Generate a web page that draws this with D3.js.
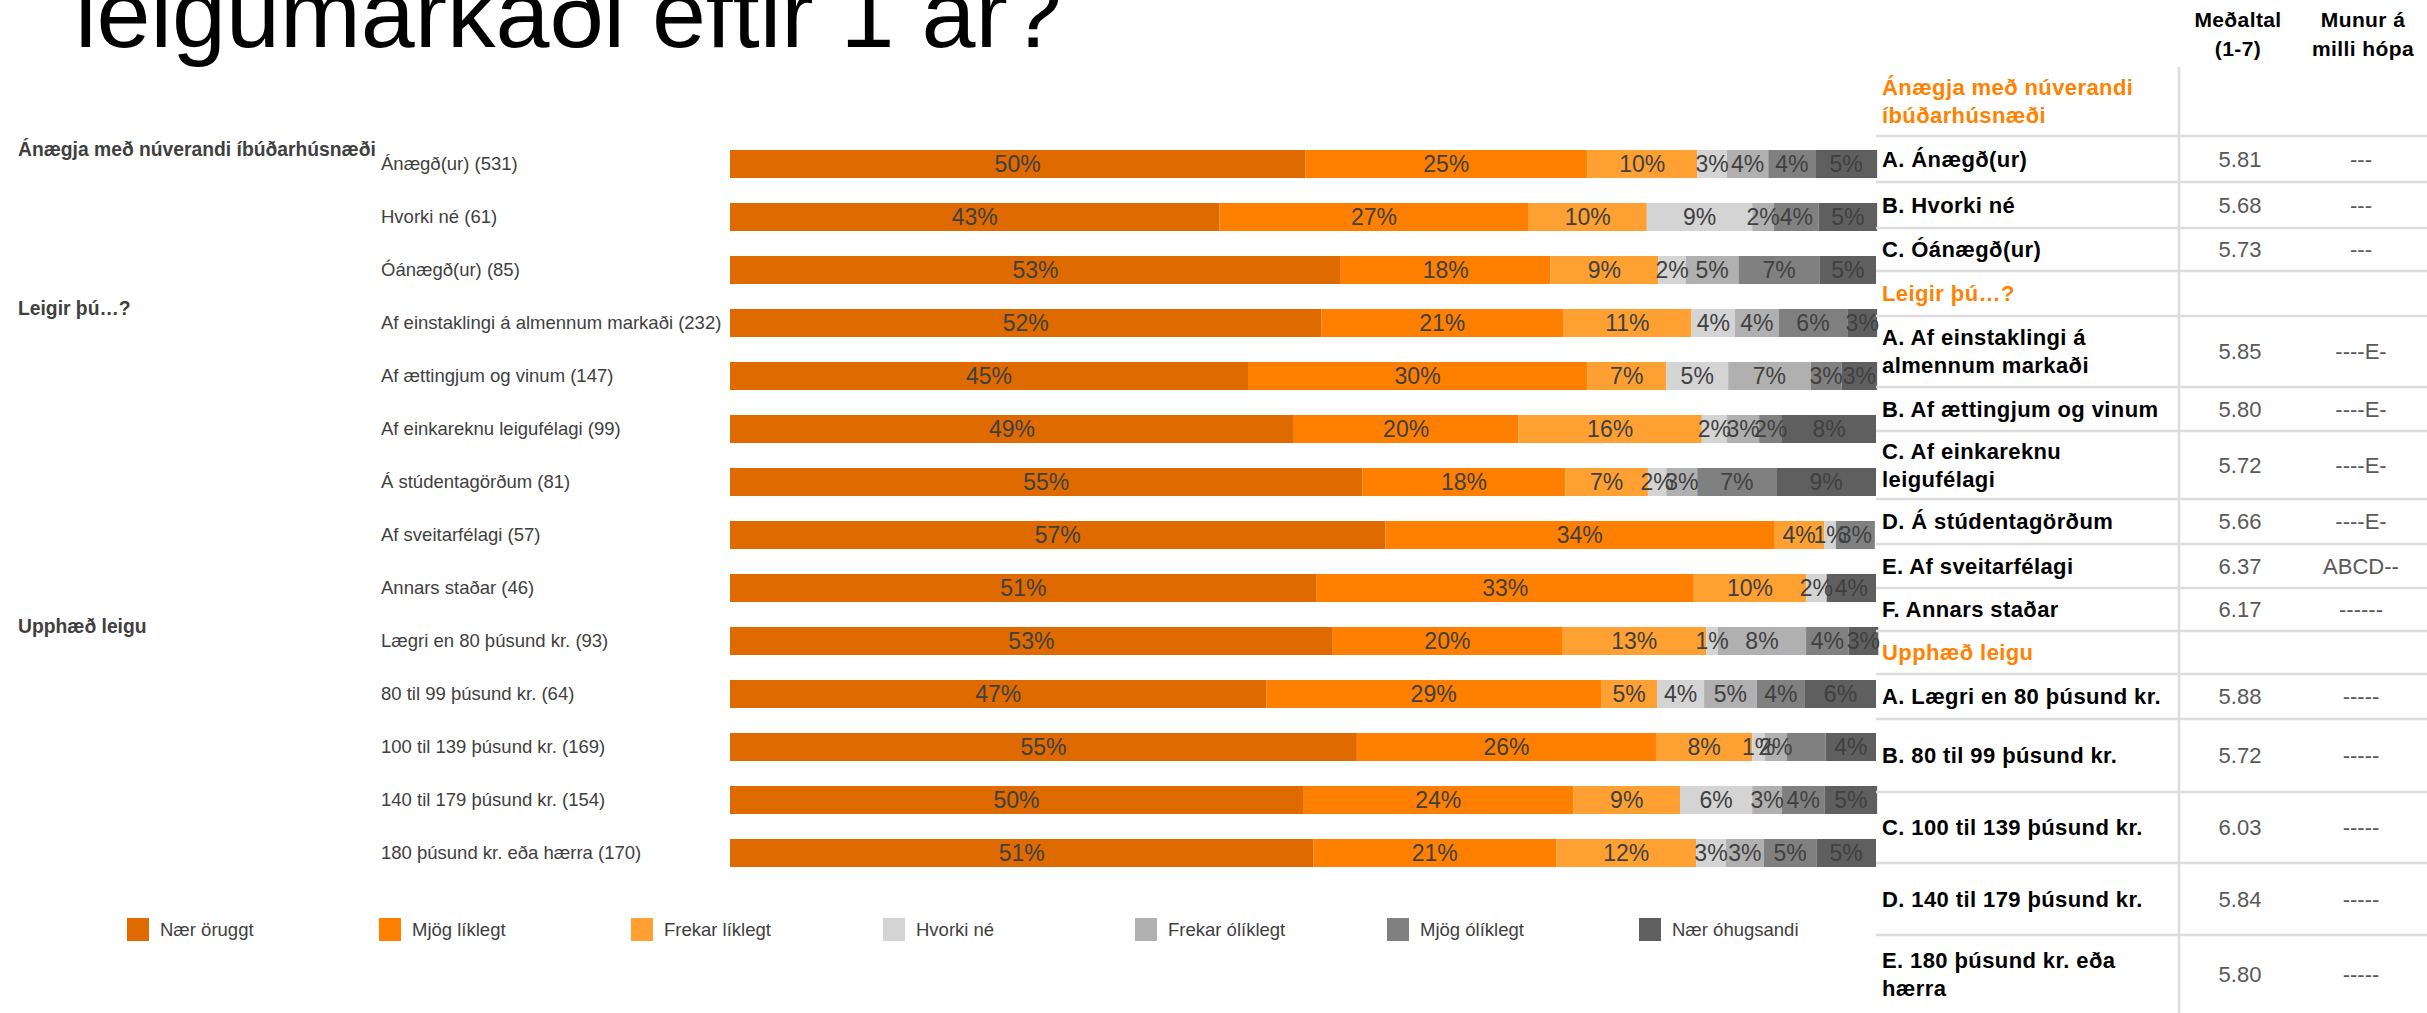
<!DOCTYPE html>
<html>
<head>
<meta charset="utf-8">
<script src="https://cdn.jsdelivr.net/npm/d3@7"></script>
<style>
  html, body { margin: 0; padding: 0; background: #fff; }
  svg { display: block; font-family: "Liberation Sans", Arial, Helvetica, sans-serif; }
</style>
</head>
<body>
<svg id="chart" width="2427" height="1013"></svg>
<script>
// ---------- DATA ----------
const titleText = "leigumarkaði eftir 1 ár?";

const categories = [
  "Ánægð(ur) (531)", "Hvorki né (61)", "Óánægð(ur) (85)",
  "Af einstaklingi á almennum markaði (232)", "Af ættingjum og vinum (147)",
  "Af einkareknu leigufélagi (99)", "Á stúdentagörðum (81)", "Af sveitarfélagi (57)",
  "Annars staðar (46)", "Lægri en 80 þúsund kr. (93)", "80 til 99 þúsund kr. (64)",
  "100 til 139 þúsund kr. (169)", "140 til 179 þúsund kr. (154)", "180 þúsund kr. eða hærra (170)"
];

const groupNames = ["Ánægja með núverandi íbúðarhúsnæði", "Leigir þú…?", "Upphæð leigu"];
const groupStart = [0, 3, 9];

const seriesNames = ["Nær öruggt", "Mjög líklegt", "Frekar líklegt", "Hvorki né",
                     "Frekar ólíklegt", "Mjög ólíklegt", "Nær óhugsandi"];

const naerOruggt     = [50.2, 42.7, 53.3, 51.6, 45.2, 49.2, 55.2, 57.2, 51.2, 52.6, 46.8, 54.7, 50.0, 50.9];
const mjogLiklegt    = [24.6, 27.0, 18.3, 21.1, 29.6, 19.6, 17.7, 33.9, 32.9, 20.0, 29.2, 26.1, 23.6, 21.2];
const frekarLiklegt  = [ 9.6, 10.3,  9.4, 11.2,  6.9, 16.0,  7.2,  4.4,  9.8, 12.6,  4.9,  8.4,  9.3, 12.2];
const hvorkiNe       = [ 2.6,  9.2,  2.4,  3.8,  5.4,  2.2,  1.6,  1.0,  1.8,  1.0,  4.1,  1.1,  6.3,  2.6];
const frekarOliklegt = [ 3.6,  1.9,  4.6,  3.8,  7.2,  2.8,  2.7,  0.0,  0.0,  7.7,  4.6,  1.9,  2.6,  3.3];
const mjogOliklegt   = [ 4.1,  3.9,  7.1,  6.0,  2.7,  2.0,  6.9,  3.4,  0.0,  3.7,  4.2,  3.4,  3.7,  4.6];
const naerOhugsandi  = [ 5.4,  5.1,  4.9,  2.6,  3.1,  8.2,  8.7,  0.0,  4.3,  2.6,  6.2,  4.4,  4.6,  5.2];

// labels not shown in the original (row index, series index)
const hiddenLabels = [[11, 5]];

// table on the right
const tableHeadMean  = ["Meðaltal", "(1-7)"];
const tableHeadDiff  = ["Munur á", "milli hópa"];
const tableSections  = [["Ánægja með núverandi", "íbúðarhúsnæði"], ["Leigir þú…?"], ["Upphæð leigu"]];
const tableLabels = [
  ["A. Ánægð(ur)"], ["B. Hvorki né"], ["C. Óánægð(ur)"],
  ["A. Af einstaklingi á", "almennum markaði"], ["B. Af ættingjum og vinum"],
  ["C. Af einkareknu", "leigufélagi"], ["D. Á stúdentagörðum"], ["E. Af sveitarfélagi"],
  ["F. Annars staðar"], ["A. Lægri en 80 þúsund kr."], ["B. 80 til 99 þúsund kr."],
  ["C. 100 til 139 þúsund kr."], ["D. 140 til 179 þúsund kr."], ["E. 180 þúsund kr. eða", "hærra"]
];
const tableMeans = [5.81, 5.68, 5.73, 5.85, 5.80, 5.72, 5.66, 6.37, 6.17, 5.88, 5.72, 6.03, 5.84, 5.80];
const tableDiffs = ["---", "---", "---", "----E-", "----E-", "----E-", "----E-", "ABCD--", "------",
                    "-----", "-----", "-----", "-----", "-----"];

// ---------- STYLE / LAYOUT ----------
const colors = ["#de6a00", "#ff7f00", "#ffa033", "#d4d4d4", "#b0b0b0", "#808080", "#5f5f5f"];
const textGrey = "#404040";
const orange = "#ff8200";
const lineColor = "#dcdcdc";

const svg = d3.select("#chart");

// title
svg.append("text").attr("x", 75).attr("y", 47)
  .attr("font-size", 97).attr("fill", "#000").text(titleText);

// scales
const x = d3.scaleLinear().domain([0, 100]).range([730, 1876]);
const yc = d3.scalePoint().domain(categories).range([164, 164 + 13 * 53]);
const barH = 28;

const allSeries = [naerOruggt, mjogLiklegt, frekarLiklegt, hvorkiNe, frekarOliklegt, mjogOliklegt, naerOhugsandi];
const rows = categories.map((c, i) => {
  const o = { cat: c, idx: i };
  seriesNames.forEach((s, j) => o[s] = allSeries[j][i]);
  return o;
});
const stacked = d3.stack().keys(seriesNames)(rows);

const gBars = svg.append("g");
stacked.forEach((layer, j) => {
  const g = gBars.append("g").attr("fill", colors[j]);
  g.selectAll("rect").data(layer.filter(d => d[1] - d[0] > 0)).join("rect")
    .attr("x", d => x(d[0]))
    .attr("y", d => yc(d.data.cat) - barH / 2)
    .attr("width", d => x(d[1]) - x(d[0]))
    .attr("height", barH);
});
// value labels
stacked.forEach((layer, j) => {
  const g = gBars.append("g").attr("fill", textGrey).attr("font-size", 23).attr("text-anchor", "middle");
  g.selectAll("text")
    .data(layer.filter(d => d[1] - d[0] > 0 && !hiddenLabels.some(h => h[0] === d.data.idx && h[1] === j)))
    .join("text")
    .attr("x", d => (x(d[0]) + x(d[1])) / 2)
    .attr("y", d => yc(d.data.cat))
    .attr("dy", "0.36em")
    .text(d => Math.round(d[1] - d[0]) + "%");
});

// row labels
svg.append("g").attr("font-size", 18.5).attr("fill", textGrey)
  .selectAll("text").data(categories).join("text")
  .attr("x", 381).attr("y", d => yc(d)).attr("dy", "0.35em").text(d => d);

// group labels
svg.append("g").attr("font-size", 19.3).attr("font-weight", "bold").attr("fill", textGrey)
  .selectAll("text").data(groupNames).join("text")
  .attr("x", 18).attr("y", (d, i) => yc(categories[groupStart[i]]) - 15)
  .attr("dy", "0.35em").text(d => d);

// legend
const lg = svg.append("g");
seriesNames.forEach((s, j) => {
  const lx = 127 + j * 252;
  lg.append("rect").attr("x", lx).attr("y", 918).attr("width", 22).attr("height", 23).attr("fill", colors[j]);
  lg.append("text").attr("x", lx + 33).attr("y", 929.5).attr("dy", "0.35em")
    .attr("font-size", 18.5).attr("fill", textGrey).text(s);
});

// ---------- TABLE ----------
const tbl = svg.append("g").attr("font-size", 22).attr("letter-spacing", 0.4);
const colLabelX = 1882, colMeanX = 2240, colDiffX = 2361;
const tLeft = 1876, tRight = 2427, tTop = 67;
// band heights for: section, rows..., section, rows..., section, rows...
const bandHeights = [69, 46, 46, 43, 45, 71, 44, 68, 45, 44, 43, 43, 45, 73, 71, 72, 78];

// headers
tableHeadMean.forEach((t, k) => tbl.append("text").attr("x", colMeanX - 2).attr("y", 20 + k * 29).attr("dy", "0.35em")
  .attr("text-anchor", "middle").attr("font-weight", "bold").attr("font-size", 21).attr("fill", "#000").text(t));
tableHeadDiff.forEach((t, k) => tbl.append("text").attr("x", colDiffX + 2).attr("y", 20 + k * 29).attr("dy", "0.35em")
  .attr("text-anchor", "middle").attr("font-weight", "bold").attr("font-size", 21).attr("fill", "#000").text(t));

// build bands
const bands = [];
let rowIdx = 0;
tableSections.forEach((sec, si) => {
  bands.push({ type: "section", lines: sec });
  const n = (si < groupStart.length - 1 ? groupStart[si + 1] : categories.length) - groupStart[si];
  for (let k = 0; k < n; k++) {
    bands.push({ type: "row", lines: tableLabels[rowIdx], mean: tableMeans[rowIdx], diff: tableDiffs[rowIdx] });
    rowIdx++;
  }
});
let yCur = tTop;
bands.forEach((b, i) => {
  const h = bandHeights[i];
  const cy = yCur + h / 2;
  const lh = 28;
  const start = cy - (b.lines.length - 1) * lh / 2;
  b.lines.forEach((ln, k) => {
    tbl.append("text").attr("x", colLabelX).attr("y", start + k * lh).attr("dy", "0.35em")
      .attr("font-weight", "bold").attr("fill", b.type === "section" ? orange : "#000").text(ln);
  });
  if (b.type === "row") {
    tbl.append("text").attr("x", colMeanX).attr("y", cy).attr("dy", "0.35em").attr("text-anchor", "middle")
      .attr("fill", "#595959").attr("letter-spacing", 0).text(d3.format(".2f")(b.mean));
    tbl.append("text").attr("x", colDiffX).attr("y", cy).attr("dy", "0.35em").attr("text-anchor", "middle")
      .attr("fill", "#595959").attr("letter-spacing", 0).text(b.diff);
  }
  yCur += h;
  if (i < bands.length - 1) {
    svg.append("line").attr("x1", tLeft).attr("x2", tRight).attr("y1", yCur).attr("y2", yCur)
      .attr("stroke", lineColor).attr("stroke-width", 2.5);
  }
});
svg.append("line").attr("x1", 2179).attr("x2", 2179).attr("y1", tTop).attr("y2", 1013)
  .attr("stroke", lineColor).attr("stroke-width", 2.5);
</script>
</body>
</html>
